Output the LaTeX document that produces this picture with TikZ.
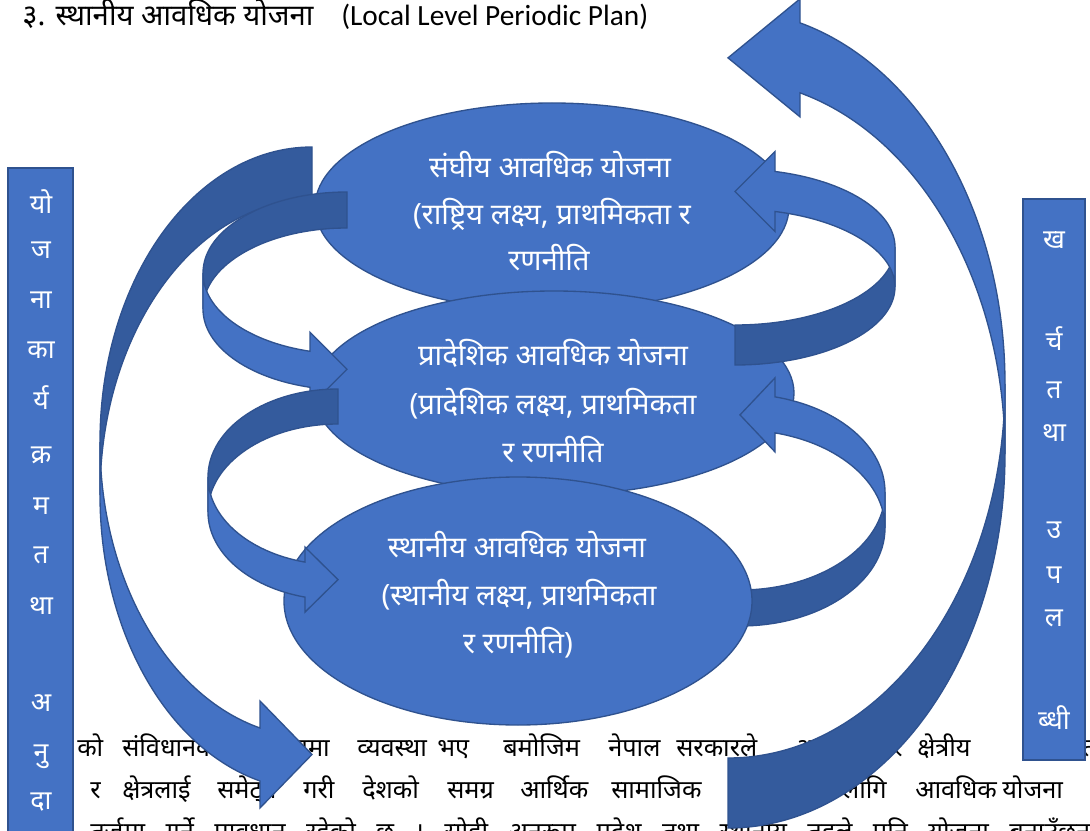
\documentclass[tikz,border=0pt]{standalone}
\usepackage{fontspec}
\usetikzlibrary{shapes.geometric}
\setmainfont{Carlito}
\newfontfamily\dev[Script=Devanagari]{Noto Sans}
\definecolor{cBlue}{HTML}{4472C4}
\definecolor{cEdge}{HTML}{2F528F}
\definecolor{cDark}{HTML}{345B9D}
\newcommand\bodyfnt{\dev\fontsize{19}{22}\selectfont}
\newcommand\ellfnt{\dev\fontsize{22}{26}\selectfont}
\newcommand\boxfnt{\dev\fontsize{20}{23}\selectfont}
% curved arrow bending to the left, head pointing right (cx,cy,rx,ry,t,xb,ext)
\newcommand{\CurvedR}[7]{%
  \pgfmathsetmacro{\cvAng}{acos((#6-(#1))/(#3))}%
  \pgfmathsetmacro{\cvA}{#2+#4*sin(\cvAng)}%
  \pgfmathsetmacro{\cvB}{\cvA+#5}%
  \pgfmathsetmacro{\cvM}{(\cvA+\cvB)/2}%
  \draw[shade] (#1,#2-#4) arc[start angle=270,end angle=180,x radius=#3,y radius=#4]
     -- ++(0,#5) arc[start angle=180,end angle=270,x radius=#3,y radius=#4] -- cycle;
  \draw[plate] (#1-#3,#2+#5) arc[start angle=180,end angle=\cvAng,x radius=#3,y radius=#4]
     -- (#6,\cvB+#7) -- (#1,\cvM) -- (#6,\cvA-#7) -- (#6,\cvA)
     arc[start angle=\cvAng,end angle=180,x radius=#3,y radius=#4] -- cycle;
}
% curved arrow bending to the right, head pointing left
\newcommand{\CurvedL}[7]{%
  \pgfmathsetmacro{\cvAng}{360-acos((#6-(#1))/(#3))}%
  \pgfmathsetmacro{\cvA}{#2+#4*sin(\cvAng)}%
  \pgfmathsetmacro{\cvB}{\cvA+#5}%
  \pgfmathsetmacro{\cvM}{(\cvA+\cvB)/2}%
  \draw[shade] (#1,#2+#4) arc[start angle=90,end angle=0,x radius=#3,y radius=#4]
     -- ++(0,#5) arc[start angle=0,end angle=90,x radius=#3,y radius=#4] -- cycle;
  \draw[plate] (#1+#3,#2+#5) arc[start angle=360,end angle=\cvAng,x radius=#3,y radius=#4]
     -- (#6,\cvB+#7) -- (#1,\cvM) -- (#6,\cvA-#7) -- (#6,\cvA)
     arc[start angle=\cvAng,end angle=360,x radius=#3,y radius=#4] -- cycle;
}
\tikzset{
  plate/.style={fill=cBlue, draw=cEdge, line width=1pt},
  shade/.style={fill=cDark, draw=cEdge, line width=1pt},
  bw/.style={anchor=base west, inner sep=0pt, font=\bodyfnt},
  be/.style={anchor=base east, inner sep=0pt, font=\bodyfnt},
  etext/.style={anchor=base, inner sep=0pt, font=\ellfnt, text=white},
  btext/.style={inner sep=0pt, font=\boxfnt, text=white},
}
\begin{document}
\begin{tikzpicture}[x=0.75pt,y=-0.75pt]
\useasboundingbox (0,0) rectangle (1090,831);
\fill[white] (0,0) rectangle (1090,831);
% body text
\node[bw] (b1) at (77,756) {को};
\node[bw] (b2) at (122,756) {संविधानको};
\node[be] (b3) at (330,756) {प्रावधानमा};
\node[bw] (b4) at (357,756) {व्यवस्था};
\node[bw] (b5) at (437,756) {भए};
\node[bw] (b6) at (503,756) {बमोजिम};
\node[bw] (b7) at (608,756) {नेपाल};
\node[bw] (b8) at (676,756) {सरकारले};
\node[bw] (b9) at (795,756) {आफ्नो};
\node[be] (b10) at (903,756) {कार};
\node[bw] (b11) at (917,756) {क्षेत्रीय};
\node[bw] (b12) at (1082,756) {तह};
\node[bw] (c1) at (90,798) {र};
\node[bw] (c2) at (122,798) {क्षेत्रलाई};
\node[bw] (c3) at (217,798) {समेट्ने};
\node[bw] (c4) at (303,798) {गरी};
\node[bw] (c5) at (362,798) {देशको};
\node[bw] (c6) at (447,798) {समग्र};
\node[bw] (c7) at (520,798) {आर्थिक};
\node[bw] (c8) at (611,798) {सामाजिक};
\node[bw] (c9) at (730,798) {विकासका};
\node[be] (c10) at (887,798) {लागि};
\node[bw] (c11) at (915,798) {आवधिक};
\node[bw] (c12) at (1002,798) {योजना};
\node[bw] (d1) at (90,840) {\makebox[750pt][s]{तर्जुमा गर्ने प्रावधान रहेको छ । सोही अनुरूप प्रदेश तथा स्थानीय तहले पनि योजना बनाउँछन्}};
% title
\node[anchor=base west, inner sep=0pt, font=\dev\fontsize{22}{26}\selectfont] (ti1) at (22,26) {३. स्थानीय आवधिक योजना};
\node[anchor=base west, inner sep=0pt, font=\fontsize{22}{26}\selectfont] (ti2) at (341,26) {(Local Level Periodic Plan)};
% side boxes
\node[plate, rectangle, minimum width=48.75pt, minimum height=504pt, inner sep=0pt] (lbox) at (40.5,504) {};
\node[plate, rectangle, minimum width=46.5pt, minimum height=420.75pt, inner sep=0pt] (rbox) at (1054,479.5) {};
\foreach \t/\yy [count=\i] in {यो/202, ज/250, ना/300, का/350, र्य/398, क्र/455, म/506, त/555, था/606, अ/703, नु/757, दा/802}
  {\node[btext] (l\i) at (41,\yy) {\t};}
\foreach \t/\yy [count=\i] in {ख/240, र्च/339, त/390, था/433, उ/530, प/575, ल/618, ब्धी/718}
  {\node[btext] (r\i) at (1054,\yy) {\t};}
% big arrows
\CurvedR{312}{442}{212}{295}{53}{260}{27}
\CurvedL{728}{384}{277}{374}{70}{800}{24}
% ellipses
\node[plate, ellipse, minimum width=355.5pt, minimum height=156pt, inner sep=0pt] (e1) at (552,207) {};
\node[etext] (t1a) at (550,178) {संघीय आवधिक योजना};
\node[etext] (t1b) at (552,225) {(राष्ट्रिय लक्ष्य, प्राथमिकता र};
\node[etext] (t1c) at (549,271) {रणनीति};
\node[plate, ellipse, minimum width=360pt, minimum height=153pt, inner sep=0pt] (e2) at (554,393) {};
\node[etext] (t2a) at (553,365) {प्रादेशिक आवधिक योजना};
\node[etext] (t2b) at (553,414) {(प्रादेशिक लक्ष्य, प्राथमिकता};
\node[etext] (t2c) at (553,462) {र रणनीति};
\CurvedL{740}{492}{145}{98}{36}{775}{19}
\node[plate, ellipse, minimum width=351pt, minimum height=186pt, inner sep=0pt] (e3) at (518,601) {};
\node[etext] (t3a) at (517,557) {स्थानीय आवधिक योजना};
\node[etext] (t3b) at (519,605) {(स्थानीय लक्ष्य, प्राथमिकता};
\node[etext] (t3c) at (518,653) {र रणनीति)};
% small curved arrows
\CurvedR{347}{273}{144}{81}{36}{310}{19}
\CurvedR{338}{477}{130}{88}{35}{305}{15}
\CurvedL{735}{247}{160}{78}{40}{775}{20}
\end{tikzpicture}
\end{document}
